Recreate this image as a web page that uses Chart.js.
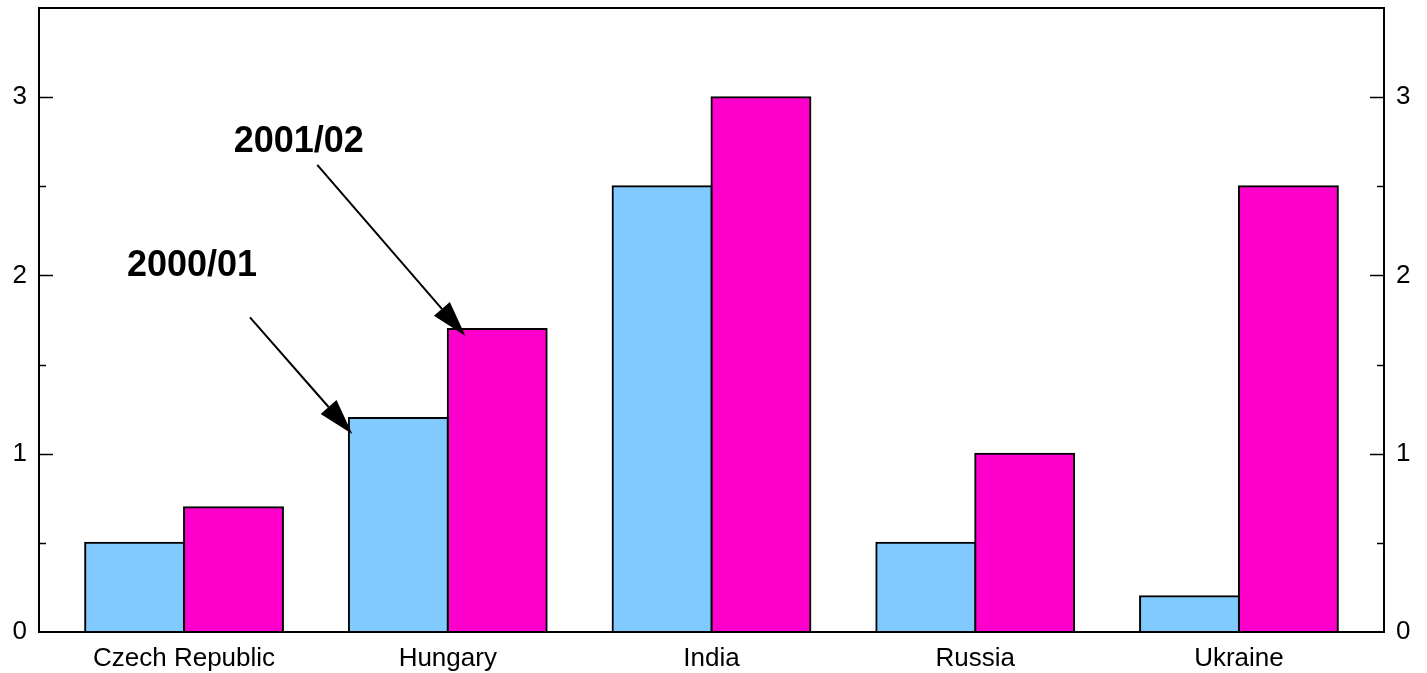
<!DOCTYPE html>
<html>
<head>
<meta charset="utf-8">
<script src="https://cdn.jsdelivr.net/npm/chart.js@4"></script>
<style>
  html, body { margin: 0; padding: 0; background: #ffffff; }
  #wrap { width: 1427px; height: 673px; position: relative; }
</style>
</head>
<body>
<div id="wrap"><canvas id="c"></canvas></div>
<script>
// ---- data ----
const categories = ["Czech Republic", "Hungary", "India", "Russia", "Ukraine"];
const series2000_01 = [0.5, 1.2, 2.5, 0.5, 0.2];
const series2001_02 = [0.7, 1.7, 3.0, 1.0, 2.5];
const seriesNames = ["2000/01", "2001/02"];
const yTickValues = [0, 1, 2, 3];

// annotation placement in data coordinates (x = category index, y = value)
const annotations = [
  { text: "2000/01", tx: 0.03, ty: 2.052, ax0: 0.25, ay0: 1.765, ax1: 0.638, ay1: 1.11 },
  { text: "2001/02", tx: 0.435, ty: 2.748, ax0: 0.505, ay0: 2.62, ax1: 1.067, ay1: 1.66 }
];

const FONT = "'Liberation Sans', Arial, Helvetica, sans-serif";

const framePlugin = {
  id: 'frame',
  afterDraw(chart) {
    const ctx = chart.ctx;
    const a = chart.chartArea;
    const y = chart.scales.y;
    const xs = chart.scales.x;
    ctx.save();
    // top frame line
    ctx.strokeStyle = '#000';
    ctx.lineWidth = 2;
    ctx.beginPath();
    ctx.moveTo(a.left - 1, a.top);
    ctx.lineTo(a.right + 1, a.top);
    ctx.stroke();
    // inward tick marks on both sides
    ctx.lineWidth = 1.5;
    y.ticks.forEach(t => {
      const py = Math.round(y.getPixelForValue(t.value)) + 0.5;
      const major = Number.isInteger(t.value);
      const len = major ? 14 : 7;
      if (t.value <= y.min || t.value >= y.max) return;
      ctx.beginPath();
      ctx.moveTo(a.left, py); ctx.lineTo(a.left + len, py);
      ctx.moveTo(a.right, py); ctx.lineTo(a.right - len, py);
      ctx.stroke();
    });
    // annotations with arrows
    annotations.forEach(an => {
      ctx.fillStyle = '#000';
      ctx.font = "bold 36px " + FONT;
      ctx.textAlign = 'center';
      ctx.textBaseline = 'middle';
      ctx.fillText(an.text, xs.getPixelForValue(an.tx), y.getPixelForValue(an.ty));
      const x0 = xs.getPixelForValue(an.ax0), y0 = y.getPixelForValue(an.ay0);
      const x1 = xs.getPixelForValue(an.ax1), y1 = y.getPixelForValue(an.ay1);
      const ang = Math.atan2(y1 - y0, x1 - x0);
      const headLen = 36, headHalf = 10.5;
      const bx = x1 - headLen * Math.cos(ang), by = y1 - headLen * Math.sin(ang);
      ctx.strokeStyle = '#000';
      ctx.lineWidth = 2;
      ctx.beginPath();
      ctx.moveTo(x0, y0); ctx.lineTo(bx, by);
      ctx.stroke();
      ctx.beginPath();
      ctx.moveTo(x1, y1);
      ctx.lineTo(bx + headHalf * Math.sin(ang), by - headHalf * Math.cos(ang));
      ctx.lineTo(bx - headHalf * Math.sin(ang), by + headHalf * Math.cos(ang));
      ctx.closePath();
      ctx.fill();
    });
    ctx.restore();
  }
};

const yTicksCfg = {
  stepSize: 0.5,
  color: '#000',
  padding: 12,
  font: { family: FONT, size: 26 },
  callback: v => (yTickValues.includes(v) ? String(v) : '')
};

function fixY(width) {
  return s => { s.width = width; s.paddingTop = 0; s.paddingBottom = 0; };
}

new Chart(document.getElementById('c'), {
  type: 'bar',
  data: {
    datasets: [
      {
        label: seriesNames[0],
        data: series2000_01.map((v, i) => ({ x: i, y: v })),
        backgroundColor: '#80CAFF',
        borderColor: '#000',
        borderWidth: 2,
        borderSkipped: false,
        inflateAmount: 1
      },
      {
        label: seriesNames[1],
        data: series2001_02.map((v, i) => ({ x: i, y: v })),
        backgroundColor: '#FF00CC',
        borderColor: '#000',
        borderWidth: 2,
        borderSkipped: false,
        inflateAmount: 1
      }
    ]
  },
  options: {
    responsive: true,
    maintainAspectRatio: false,
    animation: false,
    devicePixelRatio: 1,
    categoryPercentage: 0.75,
    barPercentage: 1.0,
    layout: { padding: { top: 8, left: 0, right: 0, bottom: 0 } },
    plugins: { legend: { display: false }, tooltip: { enabled: false } },
    scales: {
      x: {
        type: 'linear',
        position: 'bottom',
        offset: false,
        min: -0.55,
        max: 4.55,
        grid: { display: false, drawTicks: false },
        border: { display: true, color: '#000', width: 2 },
        ticks: {
          stepSize: 1,
          includeBounds: false,
          autoSkip: false,
          maxRotation: 0,
          color: '#000',
          padding: 11,
          font: { family: FONT, size: 26 },
          callback: v => (Number.isInteger(v) && categories[v] !== undefined ? categories[v] : '')
        },
        afterFit: s => { s.height = 41; s.paddingLeft = 0; s.paddingRight = 0; }
      },
      y: {
        position: 'left',
        min: 0,
        max: 3.5,
        grid: { display: false, drawTicks: false },
        border: { display: true, color: '#000', width: 2 },
        ticks: yTicksCfg,
        afterFit: fixY(39)
      },
      y2: {
        position: 'right',
        min: 0,
        max: 3.5,
        grid: { display: false, drawTicks: false },
        border: { display: true, color: '#000', width: 2 },
        ticks: Object.assign({}, yTicksCfg),
        afterFit: fixY(43)
      }
    }
  },
  plugins: [framePlugin]
});
</script>
</body>
</html>
